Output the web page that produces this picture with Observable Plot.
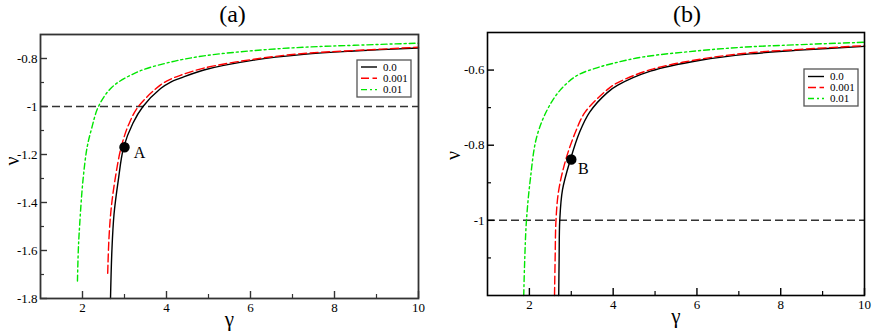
<!DOCTYPE html>
<html>
<head>
<meta charset="utf-8">
<script src="https://cdn.jsdelivr.net/npm/d3@7"></script>
<script src="https://cdn.jsdelivr.net/npm/@observablehq/plot@0.6"></script>
<style>
  html, body { margin: 0; padding: 0; background: #fff; }
  #wrap { position: relative; width: 872px; height: 331px; background: #fff; }
  .panel { position: absolute; top: 0; }
</style>
</head>
<body>
<div id="wrap">
  <div id="pa" class="panel" style="left:0px"></div>
  <div id="pb" class="panel" style="left:436px"></div>
</div>
<script>
// ---------- data (gamma, nu) ----------
// panel (a)
const a_k0 = [[2.667,-1.8],[2.70,-1.6],[2.75,-1.45],[2.85,-1.31],[2.98,-1.17],[3.2,-1.07],[3.44,-1.0],[3.86,-0.925],[4.1,-0.898],[4.33,-0.882],[4.89,-0.848],[6.08,-0.807],[7.27,-0.783],[8.46,-0.769],[10,-0.756]];
const a_k001 = [[2.60,-1.695],[2.63,-1.55],[2.68,-1.43],[2.77,-1.31],[2.92,-1.17],[3.1,-1.075],[3.33,-1.0],[3.86,-0.91],[4.1,-0.886],[4.33,-0.870],[4.89,-0.840],[6.08,-0.803],[7.27,-0.779],[8.46,-0.767],[10,-0.753]];
const a_k01 = [[1.88,-1.727],[1.90,-1.6],[1.93,-1.5],[2.01,-1.31],[2.11,-1.17],[2.22,-1.09],[2.38,-1.0],[2.7,-0.92],[3.3,-0.857],[4.095,-0.815],[4.89,-0.789],[6.08,-0.767],[7.27,-0.753],[8.46,-0.745],[10,-0.736]];
const pointA = [[3.0,-1.17]];
// panel (b)
const b_k0 = [[2.70,-1.2],[2.71,-1.1],[2.725,-1.0],[2.79,-0.919],[2.98,-0.838],[3.2,-0.765],[3.44,-0.712],[3.86,-0.66],[4.1,-0.641],[4.89,-0.603],[6.08,-0.574],[7.27,-0.557],[8.46,-0.547],[10,-0.537]];
const b_k001 = [[2.60,-1.2],[2.615,-1.1],[2.635,-1.0],[2.70,-0.92],[2.87,-0.838],[3.1,-0.765],[3.33,-0.712],[3.86,-0.652],[4.1,-0.634],[4.89,-0.599],[6.08,-0.571],[7.27,-0.554],[8.46,-0.545],[10,-0.535]];
const b_k01 = [[1.865,-1.2],[1.89,-1.1],[1.93,-1.0],[2.02,-0.893],[2.17,-0.78],[2.42,-0.707],[2.73,-0.654],[3.13,-0.615],[3.61,-0.594],[4.0,-0.582],[4.72,-0.565],[6.0,-0.549],[7.12,-0.539],[8.3,-0.533],[10,-0.526]];
const pointB = [[3.0,-0.838]];
const refLine = [-1];

// ---------- ticks / labels ----------
const xMajor = [2,4,6,8,10];
const xMinor = [3,5,7,9];
const yMajorA = [-0.8,-1,-1.2,-1.4,-1.6,-1.8];
const yMinorA = [-0.9,-1.1,-1.3,-1.5,-1.7];
const yMajorB = [-0.6,-0.8,-1];
const yMinorB = [-0.7,-0.9,-1.1];
const seriesLabels = ["0.0","0.001","0.01"];
const xDomain = [1,10];
const yDomainA = [-1.8,-0.7];
const yDomainB = [-1.2,-0.5];

const styles = [
  {stroke:"#000000", strokeDasharray:null},
  {stroke:"#ff0000", strokeDasharray:"8,3.5"},
  {stroke:"#00e600", strokeDasharray:"6,3,2,3"}
];
const FONT = "Liberation Serif, serif";

function panel(opt) {
  const W = 436, H = 331;
  const pw = W - opt.ml - opt.mr, ph = H - opt.mt - opt.mb;
  const series = opt.series;
  const marks = [
    Plot.ruleY(refLine, {stroke:"#333", strokeWidth:1.5, strokeDasharray:"8,4"}),
    ...series.map((s,i) => Plot.line(s, {x:d=>d[0], y:d=>d[1], curve:"catmull-rom",
        stroke:styles[i].stroke, strokeDasharray:styles[i].strokeDasharray, strokeWidth:1.4})),
    Plot.dot(opt.point, {x:d=>d[0], y:d=>d[1], r:4.5, fill:"#000", stroke:"#000"}),
    Plot.text(opt.point, {x:d=>d[0], y:d=>d[1], text:()=>opt.pointLabel, dx:opt.pdx, dy:opt.pdy, fontSize:16, fontFamily:FONT}),
    // inward ticks
    Plot.tickY(opt.yMajor, {y:d=>d, insetRight:pw-7, stroke:opt.frameColor, strokeWidth:1.4}),
    Plot.tickY(opt.yMinor, {y:d=>d, insetRight:pw-4, stroke:opt.frameColor, strokeWidth:1.2}),
    Plot.tickX(xMajor, {x:d=>d, insetTop:ph-7, stroke:opt.frameColor, strokeWidth:1.4}),
    Plot.tickX(xMinor, {x:d=>d, insetTop:ph-4, stroke:opt.frameColor, strokeWidth:1.2}),
    Plot.axisX(xMajor, {tickSize:0, tickPadding:4, tickFormat:d=>String(d), fontSize:13, fontFamily:FONT, label:null}),
    Plot.axisY(opt.yMajor, {tickSize:0, tickPadding:3, tickFormat:d=>String(d), fontSize:13, fontFamily:FONT, label:null}),
    Plot.frame({stroke:opt.frameColor, strokeWidth:opt.frameWidth}),
    Plot.text([opt.title], {frameAnchor:"top", dx:opt.tdx, dy:opt.tdy, lineAnchor:"middle", fontSize:24, fontFamily:FONT}),
    Plot.text(["γ"], {frameAnchor:"bottom", dy:21, lineAnchor:"middle", fontSize:21, fontFamily:FONT}),
    Plot.text(["ν"], {frameAnchor:"left", dx:opt.ndx, dy:opt.ndy, rotate:-90, lineAnchor:"middle", fontSize:20, fontFamily:FONT})
  ];
  const svg = Plot.plot({
    width: W, height: H,
    marginLeft: opt.ml, marginRight: opt.mr, marginTop: opt.mt, marginBottom: opt.mb,
    x: {domain: xDomain, label: null},
    y: {domain: opt.yDomain, label: null},
    style: {background:"#fff", color:"#000", fontFamily: FONT, fontSize:"13px"},
    marks
  });
  // legend box (layout only)
  const L = opt.legend;
  const g = d3.select(svg).append("g").attr("font-family", FONT).attr("font-size", 11).attr("text-anchor", "start");
  g.append("rect").attr("x", L.x).attr("y", L.y).attr("width", L.w).attr("height", L.h)
    .attr("fill", "#fff").attr("stroke", "#555").attr("stroke-width", 1.3);
  seriesLabels.forEach((lab, i) => {
    const yy = L.y + L.row0 + i * L.dy;
    g.append("line").attr("x1", L.x + 4).attr("x2", L.x + 20).attr("y1", yy).attr("y2", yy)
      .attr("stroke", styles[i].stroke).attr("stroke-width", 1.4)
      .attr("stroke-dasharray", styles[i].strokeDasharray);
    g.append("text").attr("x", L.x + 26).attr("y", yy).attr("dy", "0.35em")
      .attr("text-anchor", "start").attr("fill", "#000").text(lab);
  });
  return svg;
}

document.getElementById("pa").appendChild(panel({
  ml:40, mr:18, mt:34, mb:33, yDomain:yDomainA, yMajor:yMajorA, yMinor:yMinorA,
  series:[a_k0, a_k001, a_k01], point:pointA, pointLabel:"A", pdx:15, pdy:6,
  frameColor:"#333", frameWidth:1.8, title:"(a)", tdx:3, tdy:-20, ndx:-28, ndy:-1,
  legend:{x:357, y:60, w:54, h:37, row0:7, dy:11.3}
}));
document.getElementById("pb").appendChild(panel({
  ml:51, mr:8, mt:32, mb:36, yDomain:yDomainB, yMajor:yMajorB, yMinor:yMinorB,
  series:[b_k0, b_k001, b_k01], point:pointB, pointLabel:"B", pdx:12, pdy:9,
  frameColor:"#000", frameWidth:1.6, title:"(b)", tdx:11, tdy:-18, ndx:-34, ndy:-4,
  legend:{x:368, y:69, w:54, h:37, row0:7.5, dy:11}
}));
</script>
</body>
</html>
